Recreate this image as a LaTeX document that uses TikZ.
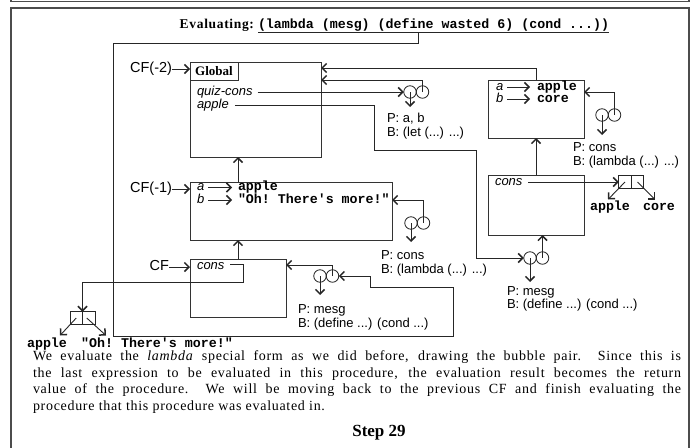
\documentclass[tikz,border=0pt]{standalone}
\usepackage{fontspec}
\setmainfont{Liberation Serif}
\setsansfont{Liberation Sans}
\setmonofont{Liberation Mono}
\newfontfamily\spacedserif[LetterSpace=5]{Liberation Serif}
\usetikzlibrary{arrows.meta}
\begin{document}
\begin{tikzpicture}[x=1pt,y=-1pt,
  every node/.style={inner sep=0pt, outer sep=0pt},
  ln/.style={draw=black!85, line width=0.9pt},
  arr/.style={ln, -{Straight Barb[length=4.5pt,width=9pt,line width=1.5pt]}},
  frm/.style={draw=black!80, line width=1pt, anchor=north west},
  bub/.style={circle, draw=black!85, line width=0.8pt, minimum size=12.5pt},
  cell/.style={draw=black!85, line width=0.8pt, minimum width=12.5pt, minimum height=12.5pt},
  lbl/.style={font=\fontsize{13}{13}\sffamily, text height=9pt, text depth=2.5pt, anchor=west},
  var/.style={font=\fontsize{13}{13}\sffamily\itshape, text height=9pt, text depth=2.5pt, anchor=west},
  val/.style={font=\fontsize{13.3}{13}\ttfamily\bfseries, text height=8.5pt, text depth=2.5pt, anchor=west},
  cf/.style={font=\fontsize{14.5}{14}\sffamily, text height=10.5pt, text depth=3pt, anchor=east},
  para/.style={font=\fontsize{14}{16}\spacedserif, anchor=base west},
]
\useasboundingbox (0,0) rectangle (698,447);
\clip (0,0) rectangle (698,447);

% panel borders
\draw[draw=black!70, line width=1.3pt] (11,-6) -- (11,1.5) -- (689,1.5) -- (689,-6);
\draw[draw=black!70, line width=1.3pt] (11,455) -- (11,8) -- (689,8) -- (689,455);

% expression being evaluated
\node[font=\fontsize{13.5}{13}\spacedserif\bfseries, anchor=base east] (ev) at (254,28) {Evaluating:};
\node[font=\fontsize{13.3}{13}\ttfamily\bfseries, anchor=base west] (code) at (258,28)
  {(lambda (mesg) (define wasted 6) (cond ...))};
\draw[ln] ([yshift=-4.5pt]code.base west) -- ([yshift=-4.5pt]code.base east);

% frames
\node[frm, minimum width=131pt, minimum height=95pt] (G) at (190,62) {};
\node[frm, minimum width=48pt, minimum height=18pt, font=\fontsize{13}{13}\rmfamily\bfseries] (GL) at (190,62) {Global};
\node[frm, minimum width=96pt, minimum height=58pt] (AB) at (488,80) {};
\node[frm, minimum width=202pt, minimum height=58pt] (C1) at (190,182) {};
\node[frm, minimum width=96pt, minimum height=60pt] (RC) at (488,175) {};
\node[frm, minimum width=96pt, minimum height=58pt] (C0) at (190,259) {};

% frame labels
\node[cf] (cfm2) at (172,69) {CF(-2)};
\node[cf] (cfm1) at (172,189) {CF(-1)};
\node[cf] (cf0) at (169,267) {CF};
\draw[arr] (cfm2.east) -- (cfm2.east -| G.west);
\draw[arr] (cfm1.east) -- (cfm1.east -| C1.west);
\draw[arr] (cf0.east) -- (cf0.east -| C0.west);

% global bindings
\node[var] (qc) at (197,92) {quiz-cons};
\node[var] (ap) at (197,105) {apple};

% bindings a, b (upper right)
\node[var] (aa) at (496,87) {a};
\node[var] (ab) at (496,99) {b};
\node[val] (va) at (537,87) {apple};
\node[val] (vb) at (537,99) {core};
\draw[arr] ([xshift=4pt]aa.east) -- ([xshift=-7pt]va.west);
\draw[arr] ([xshift=4pt]ab.east) -- ([xshift=-7pt]vb.west);

% bindings a, b (CF(-1))
\node[var] (ca) at (197,187.5) {a};
\node[var] (cb) at (197,200) {b};
\node[val] (cva) at (238,187.5) {apple};
\node[val] (cvb) at (238,200) {"Oh! There's more!"};
\draw[arr] ([xshift=4pt]ca.east) -- ([xshift=-6pt]cva.west);
\draw[arr] ([xshift=4pt]cb.east) -- ([xshift=-6pt]cvb.west);

% cons bindings
\node[var] (rcc) at (495,182) {cons};
\node[var] (c0c) at (197,266) {cons};

% bubble pairs
\node[bub] (b1l) at (410,92) {};   \node[bub] (b1r) at (422.5,92) {};
\node[bub] (b2l) at (602,115) {};  \node[bub] (b2r) at (614.5,115) {};
\node[bub] (b3l) at (411,223) {};  \node[bub] (b3r) at (423.5,223) {};
\node[bub] (b4l) at (530,258) {};  \node[bub] (b4r) at (542.5,258) {};
\node[bub] (b5l) at (320,276) {};  \node[bub] (b5r) at (332.5,276) {};

% bubble texts
\node[lbl] at (387,119) {P: a, b};
\node[lbl] at (387,133) {B: (let (...) ...)};
\node[lbl] at (573,148) {P: cons};
\node[lbl] at (573,162) {B: (lambda (...) ...)};
\node[lbl] at (381,256) {P: cons};
\node[lbl] at (381,270.5) {B: (lambda (...) ...)};
\node[lbl] at (507,292) {P: mesg};
\node[lbl] at (507,305.5) {B: (define ...) (cond ...)};
\node[lbl] at (298,310) {P: mesg};
\node[lbl] at (298,324.5) {B: (define ...) (cond ...)};

% cons cells
\node[cell] (p1a) at (625,182) {};   \node[cell] (p1b) at (637.5,182) {};
\node[val, anchor=center] (lp1a) at (610,207) {apple};
\node[val, anchor=center] (lp1b) at (659,207) {core};
\node[cell] (p2a) at (76.25,318) {}; \node[cell] (p2b) at (88.75,318) {};
\node[val, anchor=center] (lp2a) at (47,344) {apple};
\node[val, anchor=center] (lp2b) at (157,344) {"Oh! There's more!"};

% environment pointers
\draw[arr] (C1.north -| C0.north) -- (G.south -| C0.north);
\draw[arr] (C0.north) -- (C1.south -| C0.north);
\draw[arr] (RC.north) -- (AB.south);
\draw[arr] (AB.north) |- (G.east |- 0,68);

% bubble pointers
\draw[arr] ([xshift=5pt]qc.east) -- (b1l.west);
\draw[arr] (b1r.center) |- (G.east |- 0,80);
\draw[arr] (b1l.center) -- ++(0,15);
\draw[arr] (b2r.center) |- (AB.east |- 0,92);
\draw[arr] (b2l.center) -- ++(0,20);
\draw[arr] (b3r.center) |- (C1.east |- 0,200);
\draw[arr] (b3l.center) -- ++(0,19);
\draw[arr] (b4r.center) -- (b4r.center |- RC.south);
\draw[arr] (b4l.center) -- ++(0,24);
\draw[arr] (b5r.center) |- (C0.east |- 0,265);
\draw[arr] (b5l.center) -- ++(0,19);

% apple -> procedure bubble
\draw[arr] ([xshift=6pt]ap.east) -- (374,105) -- (374,150) -- (476,150) |- (b4l.west);

% cons values
\draw[arr] ([xshift=6pt]rcc.east) -- (rcc.east -| p1a.west);
\draw[arr] (p1a.center) -- ([xshift=-2pt,yshift=2pt]lp1a.north);
\draw[arr] (p1b.center) -- ([xshift=-4pt,yshift=2pt]lp1b.north);
\draw[arr] ([xshift=6pt,yshift=1.5pt]c0c.east) -| (243,282) -| (p2a.north east);
\draw[arr] (p2a.center) -- ([xshift=13pt,yshift=3pt]lp2a.north);
\draw[arr] ([xshift=-2pt]p2b.center) -- ([xshift=-51pt,yshift=3pt]lp2b.north);

% expression -> new bubble
\draw[arr] ([xshift=-15.5pt,yshift=-4.5pt]code.base) |- (113,43) -- (113,336)
  -- (453,336) -- (453,287) -- (370,287) |- (b5r.east);

% explanation
\node[para] (t1) at (33,360.5) {\makebox[648pt][s]{We evaluate the \textit{lambda} special form as we did before, drawing the bubble pair.\ \ Since this is}};
\node[para] (t2) at (33,377) {\makebox[648pt][s]{the last expression to be evaluated in this procedure, the evaluation result becomes the return}};
\node[para] (t3) at (33,393.5) {\makebox[648pt][s]{value of the procedure.\ \ We will be moving back to the previous CF and finish evaluating the}};
\node[para] (t4) at (33,410) {procedure that this procedure was evaluated in.};
\node[font=\fontsize{17}{17}\rmfamily\bfseries, anchor=base] (st) at (379,436) {Step 29};
\end{tikzpicture}
\end{document}
